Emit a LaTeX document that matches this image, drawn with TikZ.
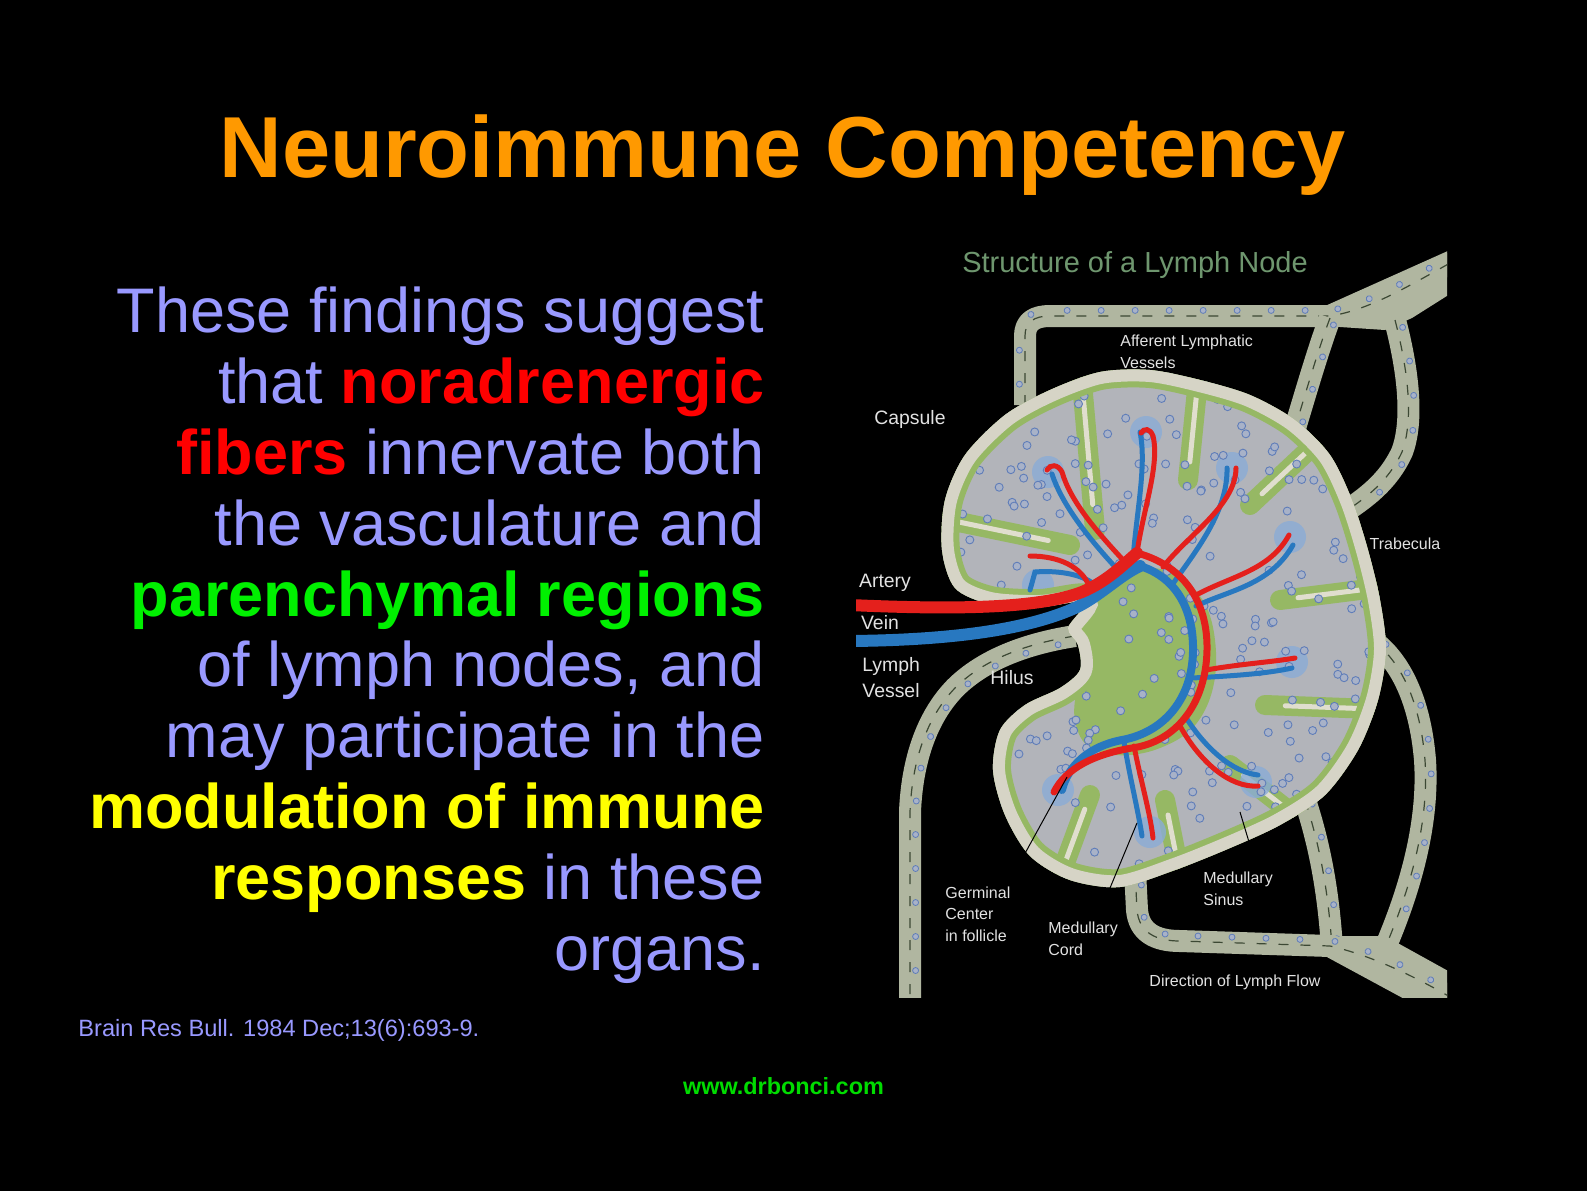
\documentclass[tikz,border=0pt]{standalone}
\usepackage{fontspec}
\setmainfont{Liberation Sans}
\usetikzlibrary{calc,decorations.markings}

\definecolor{titleorange}{RGB}{255,153,0}
\definecolor{lavender}{RGB}{153,153,255}
\definecolor{nred}{RGB}{255,0,0}
\definecolor{ngreen}{RGB}{0,240,0}
\definecolor{nyellow}{RGB}{255,255,0}
\definecolor{webgreen}{RGB}{0,220,0}
\definecolor{capsulecol}{RGB}{214,212,198}
\definecolor{lobegrey}{RGB}{178,180,186}
\definecolor{medgreen}{RGB}{150,184,100}
\definecolor{trabcol}{RGB}{224,222,206}
\definecolor{follring}{RGB}{95,125,185}
\definecolor{follfill}{RGB}{168,178,200}
\definecolor{glowblue}{RGB}{138,172,214}
\definecolor{tubecol}{RGB}{176,182,160}
\definecolor{tubedash}{RGB}{60,72,52}
\definecolor{arterycol}{RGB}{228,32,28}
\definecolor{veincol}{RGB}{40,120,192}
\definecolor{labcol}{RGB}{226,226,226}
\definecolor{headgreen}{RGB}{110,150,110}

\begin{document}
\begin{tikzpicture}[x=0.5pt, y=-0.5pt,
    lymph/.style={draw=tubecol, line width=11pt, line join=round,
      postaction={draw=tubedash, line width=0.6pt, dash pattern=on 5pt off 6pt},
      postaction={decorate, decoration={markings,
        mark=between positions 0.04 and 0.96 step 17pt with
          {\draw[draw=follring, fill=follfill, line width=0.4pt] (0,2.8pt) circle[radius=1.5pt];}}}},
    artery/.style={draw=arterycol, line width=#1, line cap=round},
    artery/.default=2.5pt,
    vein/.style={draw=veincol, line width=#1, line cap=round},
    vein/.default=2.5pt,
    follicle/.style={draw=follring, fill=follfill, line width=0.45pt},
    lab/.style={text=labcol, inner sep=0pt, align=left, font=\fontsize{8}{10.6}\selectfont},
    biglab/.style={text=labcol, inner sep=0pt, align=left, font=\fontsize{9.7}{13}\selectfont},
    leader/.style={draw=black, line width=0.5pt}]

  \path[use as bounding box] (0,0) rectangle (1587,1191);
  \fill[black] (0,0) rectangle (1587,1191);

  % slide texts
  \node (title) [anchor=base, inner sep=0pt, text=titleorange,
    font=\fontsize{43.3}{50}\selectfont\bfseries] at (782.5,177) {Neuroimmune Competency};

  \node (findings) [anchor=base east, align=right, inner sep=0pt, text=lavender,
    font=\fontsize{31.5}{35.4}\selectfont] at (765,970)
    {These findings suggest\\
     that {\color{nred}\bfseries noradrenergic}\\
     {\color{nred}\bfseries fibers} innervate both\\
     the vasculature and\\
     {\color{ngreen}\bfseries parenchymal regions}\\
     of lymph nodes, and\\
     may participate in the\\
     {\color{nyellow}\bfseries modulation of immune}\\
     {\color{nyellow}\bfseries responses} in these\\
     organs.};

  \node (cite) [anchor=base west, inner sep=0pt, text=lavender,
    font=\fontsize{11.8}{14}\selectfont] at (78,1036) {Brain Res Bull. 1984 Dec;13(6):693-9.};
  \node (web) [anchor=base, inner sep=0pt, text=webgreen,
    font=\fontsize{11.7}{14}\selectfont\bfseries] at (783.5,1094) {www.drbonci.com};

  % lymph vessels behind the node
  \begin{scope}
    \clip (856,245) rectangle (1447,997);
    \fill[tubecol] (1325,306) -- (1450,250) -- (1450,294) -- (1412,318) -- (1385,330) -- (1325,326) -- cycle;
    \fill[tubecol] (1325,936) -- (1385,936) -- (1450,972) -- (1450,1002) -- (1410,1002) -- (1325,956) -- cycle;
    \draw[lymph] (1025,405) -- (1025,336) .. controls (1025,322) and (1034,316) .. (1050,316)
      -- (1330,316) .. controls (1370,310) and (1410,285) .. (1452,262);
    \draw[lymph] (1330,318) .. controls (1318,350) and (1305,395) .. (1290,445);
    \draw[lymph] (1395,320) .. controls (1408,370) and (1414,420) .. (1402,452)
      .. controls (1388,482) and (1366,498) .. (1340,515);
    \draw[lymph] (1372,640) .. controls (1400,660) and (1420,700) .. (1425,760)
      .. controls (1429,820) and (1412,885) .. (1385,948);
    \draw[lymph] (1305,800) .. controls (1318,840) and (1328,885) .. (1332,948);
    \draw[lymph] (1135,870) -- (1137,910) .. controls (1139,932) and (1155,941) .. (1180,941)
      -- (1330,946) .. controls (1370,955) and (1412,975) .. (1452,998);
    \draw[lymph] (1075,636) .. controls (1030,643) and (985,658) .. (955,688)
      .. controls (926,718) and (912,762) .. (910,812) -- (910,1002);
  \end{scope}

  % the node itself
  \begin{scope}
    \clip plot[smooth cycle, tension=0.5] coordinates {(1085,602) (1040,607) (990,604) (955,588)
      (942,550) (945,500) (965,455) (1005,415) (1050,390) (1100,372) (1150,370) (1200,380)
      (1250,395) (1295,420) (1330,455) (1352,500) (1368,550) (1380,600) (1386,650) (1378,700)
      (1358,750) (1325,795) (1280,825) (1230,848) (1175,870) (1120,887) (1070,880) (1030,856)
      (1005,815) (993,770) (1000,730) (1025,705) (1060,688) (1080,670) (1078,645) (1068,628)};
    \fill[lobegrey] (920,350) rectangle (1400,900);
    \fill[medgreen] plot[smooth cycle, tension=0.7] coordinates {(1085,600) (1135,568) (1190,585)
      (1215,640) (1205,710) (1160,748) (1100,752) (1075,720) (1082,660)};
    \foreach \xa/\ya/\xb/\yb in {1095/530/1080/360, 1188/480/1200/360, 1250/505/1330/430,
        1280/600/1400/585, 1265/705/1400/710, 1230/765/1320/835, 1165/800/1185/900,
        1090/795/1055/890, 1070/545/925/515}
      \draw[medgreen, line width=10pt, line cap=round] (\xa,\ya) -- (\xb,\yb);
    \foreach \xa/\ya/\xb/\yb in {1095/530/1080/360, 1188/480/1200/360, 1250/505/1330/430,
        1280/600/1400/585, 1265/705/1400/710, 1230/765/1320/835, 1165/800/1185/900,
        1090/795/1055/890, 1070/545/925/515}
      \draw[trabcol, line width=2.5pt, line cap=round] ($(\xa,\ya)!0.15!(\xb,\yb)$) -- (\xb,\yb);
    \foreach \gx/\gy in {1048/472, 1146/432, 1232/468, 1290/537, 1038/585,
        1292/662, 1256/782, 1058/790, 1150/832}
      \fill[glowblue, opacity=0.8] (\gx,\gy) circle[radius=16];
    \pgfmathsetseed{11}
    \foreach \k in {1,...,330}{
      \pgfmathsetmacro{\fx}{935+455*rnd}
      \pgfmathsetmacro{\fy}{360+535*rnd}
      \draw[follicle] (\fx,\fy) circle[radius=4];
    }
    \draw[draw=medgreen, line width=3pt, double=capsulecol, double distance=12pt]
      plot[smooth cycle, tension=0.5] coordinates {(1085,602) (1040,607) (990,604) (955,588)
      (942,550) (945,500) (965,455) (1005,415) (1050,390) (1100,372) (1150,370) (1200,380)
      (1250,395) (1295,420) (1330,455) (1352,500) (1368,550) (1380,600) (1386,650) (1378,700)
      (1358,750) (1325,795) (1280,825) (1230,848) (1175,870) (1120,887) (1070,880) (1030,856)
      (1005,815) (993,770) (1000,730) (1025,705) (1060,688) (1080,670) (1078,645) (1068,628)};
  \end{scope}

  % blood vessels
  \begin{scope}
    \clip (856,245) rectangle (1447,997);
    \draw[vein=6pt] (850,641) .. controls (960,640) and (1030,628) .. (1075,608)
      .. controls (1100,596) and (1120,575) .. (1140,566);
    \draw[vein=4pt] (1140,566) .. controls (1178,578) and (1194,612) .. (1193,652)
      .. controls (1192,698) and (1165,732) .. (1122,740) .. controls (1090,746) and (1068,765) .. (1062,790);
    \draw[vein] (1118,570) .. controls (1090,540) and (1062,505) .. (1052,474);
    \draw[vein] (1133,560) .. controls (1136,515) and (1147,465) .. (1140,432);
    \draw[vein] (1172,585) .. controls (1195,552) and (1228,512) .. (1227,468);
    \draw[vein] (1196,606) .. controls (1230,590) and (1270,585) .. (1293,545);
    \draw[vein] (1096,586) .. controls (1085,575) and (1060,570) .. (1035,572) -- (1030,590);
    \draw[vein] (1192,678) .. controls (1230,676) and (1265,674) .. (1292,668);
    \draw[vein] (1185,716) .. controls (1205,748) and (1232,772) .. (1258,775);
    \draw[vein] (1124,742) .. controls (1130,778) and (1138,810) .. (1142,836);
    \draw[artery=6pt] (850,605) .. controls (960,610) and (1040,608) .. (1082,592)
      .. controls (1108,581) and (1125,563) .. (1137,553);
    \draw[artery=3.5pt] (1137,553) .. controls (1182,565) and (1208,600) .. (1207,650)
      .. controls (1206,705) and (1175,742) .. (1132,748) .. controls (1095,754) and (1066,768) .. (1054,792);
    \draw[artery] (1125,562) .. controls (1095,530) and (1070,500) .. (1062,472)
      .. controls (1058,464) and (1050,464) .. (1047,470);
    \draw[artery] (1137,553) .. controls (1143,510) and (1160,465) .. (1153,436)
      .. controls (1150,428) and (1144,428) .. (1141,433);
    \draw[artery] (1163,567) .. controls (1188,535) and (1236,505) .. (1236,468);
    \draw[artery] (1198,594) .. controls (1232,576) and (1270,570) .. (1289,535);
    \draw[artery] (1090,588) .. controls (1082,566) and (1058,556) .. (1030,556);
    \draw[artery] (1206,670) .. controls (1240,664) and (1272,662) .. (1295,658);
    \draw[artery] (1180,726) .. controls (1200,762) and (1230,788) .. (1258,786);
    \draw[artery] (1134,746) .. controls (1141,782) and (1150,812) .. (1153,838);
  \end{scope}

  % labels of the drawing
  \node (structure) [anchor=base, inner sep=0pt, text=headgreen,
    font=\fontsize{14.5}{16}\selectfont] at (1135,272) {Structure of a Lymph Node};
  \node (afferent) [lab, anchor=base west] at (1120,368) {Afferent Lymphatic\\Vessels};
  \node (capsule) [biglab, anchor=base] at (910,424) {Capsule};
  \node (trabecula) [lab, anchor=base] at (1405,549) {Trabecula};
  \node (artery) [biglab, anchor=base] at (885,587) {Artery};
  \node (vein) [biglab, anchor=base] at (880,629) {Vein};
  \node (lymphvessel) [biglab, anchor=base west] at (862,697) {Lymph\\Vessel};
  \node (hilus) [biglab, anchor=base] at (1012,684) {Hilus};
  \node (germinal) [lab, anchor=base west] at (945,941) {Germinal\\Center\\in follicle};
  \node (medcord) [lab, anchor=base west] at (1048,955) {Medullary\\Cord};
  \node (medsinus) [lab, anchor=base west] at (1203,905) {Medullary\\Sinus};
  \node (flow) [lab, anchor=base] at (1235,986) {Direction of Lymph Flow};

  \coordinate (germtip) at (1067,777);
  \coordinate (germfoot) at (1023,857);
  \coordinate (cordtip) at (1137,823);
  \coordinate (cordfoot) at (1110,888);
  \coordinate (sinustip) at (1240,812);
  \coordinate (sinusfoot) at (1252,852);
  \draw[leader] (germfoot) -- (germtip);
  \draw[leader] (cordfoot) -- (cordtip);
  \draw[leader] (sinusfoot) -- (sinustip);
\end{tikzpicture}
\end{document}
